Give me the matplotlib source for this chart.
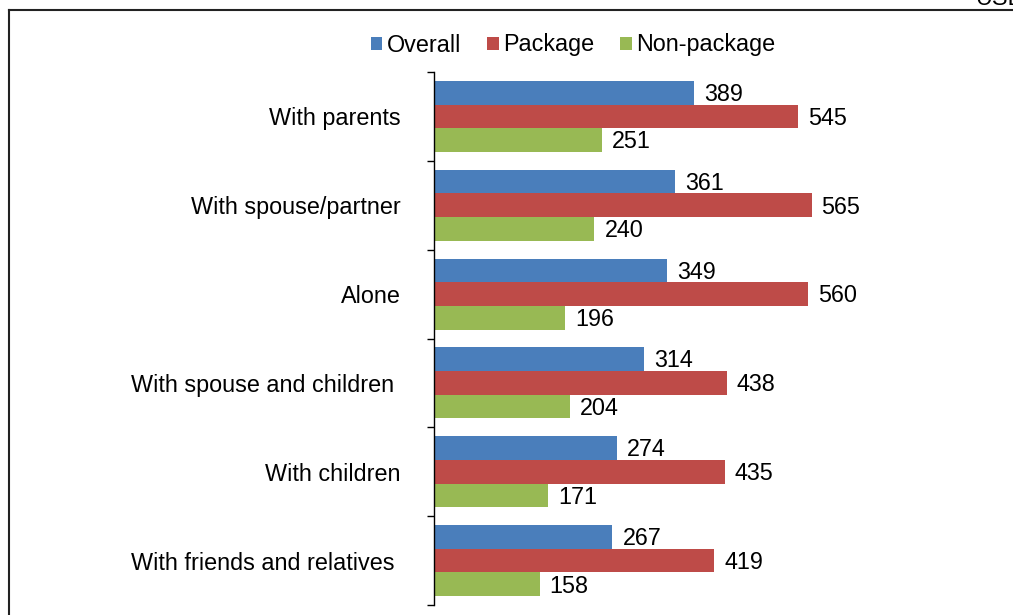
import matplotlib.pyplot as plt
import numpy as np

plt.rcParams['font.family'] = ['Liberation Sans', 'DejaVu Sans']

categories = ["With parents", "With spouse/partner", "Alone",
              "With spouse and children ", "With children", "With friends and relatives "]
overall = [389, 361, 349, 314, 274, 267]
package = [545, 565, 560, 438, 435, 419]
non_package = [251, 240, 196, 204, 171, 158]
series_names = ["Overall", "Package", "Non-package"]
colors = ["#4A7EBB", "#BE4B48", "#98B954"]

W, H = 1013, 615
fs = 16.8
fig = plt.figure(figsize=(W / 100, H / 100), dpi=100)
# axes: left 434px, right 1000px, top 72px, bottom 605px
ax = fig.add_axes([434 / W, 1 - 605 / H, (1000 - 434) / W, (605 - 72) / H])

n = len(categories)
y = np.arange(n)
bh = 0.267
for i, (vals, name, col) in enumerate(zip([overall, package, non_package], series_names, colors)):
    pos = y - bh + i * bh
    ax.barh(pos, vals, height=bh, color=col, label=name)
    for p, v in zip(pos, vals):
        ax.text(v + 15, p + 0.02, str(v), va='center', ha='left', fontsize=fs)

ax.set_ylim(n - 0.5, -0.5)
ax.set_xlim(0, 847)
ax.set_yticks(y)
ax.set_yticklabels(categories, fontsize=fs)
ax.set_yticks(np.arange(n + 1) - 0.5, minor=True)
ax.tick_params(axis='y', which='major', length=0, pad=24)
ax.tick_params(axis='y', which='minor', length=5, width=1, direction='out')
ax.set_xticks([])
for s in ['top', 'right', 'bottom']:
    ax.spines[s].set_visible(False)
ax.spines['left'].set_linewidth(1)

ax.legend(loc='center', bbox_to_anchor=(573 / W, 1 - 45 / H), bbox_transform=fig.transFigure,
          ncol=3, frameon=False, fontsize=fs, handlelength=0.5, handleheight=0.5,
          handletextpad=0.2, columnspacing=1.1)

# outer border (left and top)
fig.add_artist(plt.Line2D([9 / W, 9 / W], [0, 1 - 10 / H], color='#222222', lw=1.5,
                          transform=fig.transFigure))
fig.add_artist(plt.Line2D([9 / W, 1], [1 - 10 / H, 1 - 10 / H], color='#222222', lw=1.5,
                          transform=fig.transFigure))
fig.text(975 / W, 1 - 5 / H, "USD", fontsize=fs, va='baseline', ha='left')

fig.savefig("out.png", dpi=100)
